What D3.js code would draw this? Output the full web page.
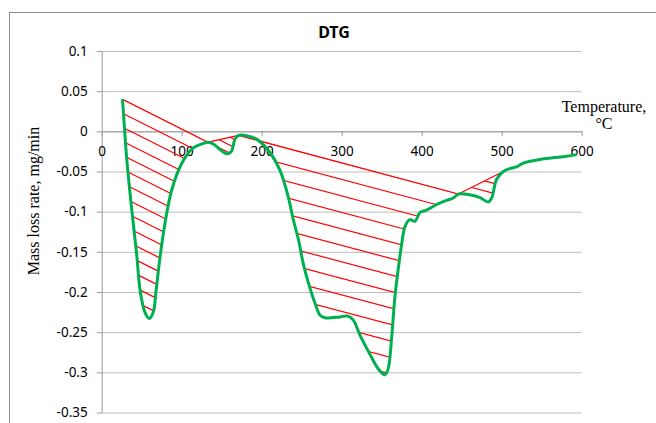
<!DOCTYPE html>
<html>
<head>
<meta charset="utf-8">
<script src="https://cdn.jsdelivr.net/npm/d3@7"></script>
<style>
  body { margin: 0; background: #fff; }
  svg { display: block; }
</style>
</head>
<body>
<svg id="graf"></svg>
<script>
// curva DTG (temperatura en C, tasa en mg/min)
let temperatura = [26, 28, 31, 35, 39.5, 44, 48, 54, 59.5, 64.5, 68, 73, 79, 87.5, 100, 114, 127, 133, 140, 146, 156, 162, 166.5, 171, 183, 194, 210, 223, 233, 239.5, 246, 252, 260, 267, 273, 279, 298, 308, 314.5, 323, 335, 346, 354, 358, 362.5, 366.5, 371, 375, 379, 385, 391.5, 398, 406, 419, 431, 439.5, 446, 460, 473, 483, 487.5, 493.5, 502, 508, 519, 527, 548, 564, 581, 594]
let tasa = [0.040, 0.011, -0.031, -0.073, -0.115, -0.156, -0.198, -0.225, -0.233, -0.225, -0.198, -0.156, -0.115, -0.073, -0.040, -0.021, -0.015, -0.0135, -0.016, -0.021, -0.028, -0.025, -0.010, -0.005, -0.006, -0.010, -0.026, -0.049, -0.081, -0.110, -0.135, -0.165, -0.194, -0.215, -0.229, -0.232, -0.231, -0.230, -0.235, -0.254, -0.277, -0.296, -0.303, -0.296, -0.256, -0.206, -0.169, -0.140, -0.119, -0.110, -0.112, -0.101, -0.098, -0.091, -0.086, -0.083, -0.078, -0.079, -0.0825, -0.088, -0.083, -0.060, -0.050, -0.047, -0.044, -0.0395, -0.035, -0.033, -0.031, -0.029]

let xTicks = [0, 100, 200, 300, 400, 500, 600]
let yTicks = [0.1, 0.05, 0, -0.05, -0.1, -0.15, -0.2, -0.25, -0.3, -0.35]

// zonas rayadas: de un pico a otro
let zonaInicio = [26, 133, 171, 446]
let zonaFin = [133, 171, 446, 502]


function graficar() {
  let width = 656
  let height = 423
  let svg = d3.select('#graf')
              .attr('width', width)
              .attr('height', height)

  let x = d3.scaleLinear().domain([0, 600]).range([101.7, 581.7])
  let y = d3.scaleLinear().domain([-0.35, 0.1]).range([412.5, 51])
  let suave = d3.curveCatmullRom.alpha(0.5)

  let datos = temperatura.map((t, i) => ({ t: t, v: tasa[i] }))
  let valorEn = (t) => tasa[temperatura.indexOf(t)]

  // marco del grafico
  svg.append('rect')
     .attr('x', 9.5).attr('y', 12.5)
     .attr('width', 680).attr('height', 440)
     .attr('fill', 'none')
     .attr('stroke', '#8f8f8f')

  // lineas de la grilla
  let grilla = svg.append('g')
                  .attr('transform', `translate(${x(0)}, 0)`)
                  .call(d3.axisLeft(y).tickValues(yTicks).tickSize(-(x(600) - x(0))).tickFormat(''))
  grilla.select('.domain').remove()
  grilla.selectAll('line').attr('stroke', '#bdbdbd')

  // eje y
  let ejeY = svg.append('g')
                .attr('transform', `translate(${x(0)}, 0)`)
                .call(d3.axisLeft(y).tickValues(yTicks).tickSize(5).tickSizeOuter(0).tickPadding(9)
                        .tickFormat(d => String(+d.toFixed(2))))
  ejeY.select('.domain').attr('stroke', '#9a9a9a')
  ejeY.selectAll('line').attr('stroke', '#9a9a9a')
  ejeY.selectAll('text')
      .style('font-family', '"Noto Sans", sans-serif')
      .style('font-size', '13.5px')
      .attr('fill', '#000')

  // eje x cruzando en 0
  let ejeX = svg.append('g')
                .attr('transform', `translate(0, ${y(0)})`)
                .call(d3.axisBottom(x).tickValues(xTicks).tickSize(5).tickSizeOuter(0).tickPadding(10))
  ejeX.select('.domain').attr('stroke', '#9a9a9a')
  ejeX.selectAll('line').attr('stroke', '#9a9a9a')
  ejeX.selectAll('text')
      .style('font-family', '"Noto Sans", sans-serif')
      .style('font-size', '13.5px')
      .attr('fill', '#000')

  // recortes para el rayado
  let defs = svg.append('defs')
  let area = d3.area()
               .x(d => x(d.t))
               .y0(y(0.1))
               .y1(d => y(d.v))
               .curve(suave)
  defs.append('clipPath').attr('id', 'sobreCurva')
      .append('path').attr('d', area(datos))

  let bases = zonaInicio.map((t0, i) => {
    let t1 = zonaFin[i]
    return { xa: x(t0), ya: y(valorEn(t0)), xb: x(t1), yb: y(valorEn(t1)) }
  })
  let patron = [0, 0, 2, 2]
  let paso = [14, 8, 16.5, 10]

  let rayado = svg.append('g').attr('clip-path', 'url(#sobreCurva)')
  bases.forEach((b, i) => {
    defs.append('clipPath').attr('id', 'bajoBase' + i)
        .append('path')
        .attr('d', `M${b.xa},${b.ya}L${b.xb},${b.yb}L${b.xb},${y(-0.35)}L${b.xa},${y(-0.35)}Z`)

    let ref = bases[patron[i]]
    let pendiente = (ref.yb - ref.ya) / (ref.xb - ref.xa)
    let ks = d3.range(-40, 41)
    rayado.append('g')
          .attr('clip-path', `url(#bajoBase${i})`)
          .selectAll('line')
          .data(ks)
          .enter().append('line')
          .attr('x1', b.xa)
          .attr('x2', b.xb)
          .attr('y1', k => b.ya + k * paso[i])
          .attr('y2', k => b.ya + pendiente * (b.xb - b.xa) + k * paso[i])
          .attr('stroke', '#ff0000')
          .attr('stroke-width', 1.2)

    svg.append('line')
       .attr('x1', b.xa).attr('y1', b.ya)
       .attr('x2', b.xb).attr('y2', b.yb)
       .attr('stroke', '#ff0000')
       .attr('stroke-width', 1.2)
  })

  // curva DTG
  let linea = d3.line()
                .x(d => x(d.t))
                .y(d => y(d.v))
                .curve(suave)
  svg.append('path')
     .datum(datos)
     .attr('d', linea)
     .attr('fill', 'none')
     .attr('stroke', '#00b050')
     .attr('stroke-width', 3)
     .attr('stroke-linejoin', 'round')

  // titulos
  svg.append('text')
     .text('DTG')
     .attr('x', 334).attr('y', 37.5)
     .attr('text-anchor', 'middle')
     .style('font-family', '"Noto Sans", sans-serif')
     .style('font-weight', 'bold')
     .style('font-size', '16px')

  svg.append('text')
     .text('Mass loss rate, mg/min')
     .attr('transform', 'translate(38.5, 201) rotate(-90)')
     .attr('text-anchor', 'middle')
     .style('font-family', '"Liberation Serif", serif')
     .style('font-size', '16px')

  let tituloX = svg.append('text')
                   .attr('text-anchor', 'middle')
                   .style('font-family', '"Liberation Serif", serif')
                   .style('font-size', '16px')
  tituloX.append('tspan').attr('x', 604).attr('y', 112).text('Temperature,')
  tituloX.append('tspan').attr('x', 604).attr('y', 129).text('°C')
}

graficar()
</script>
</body>
</html>
